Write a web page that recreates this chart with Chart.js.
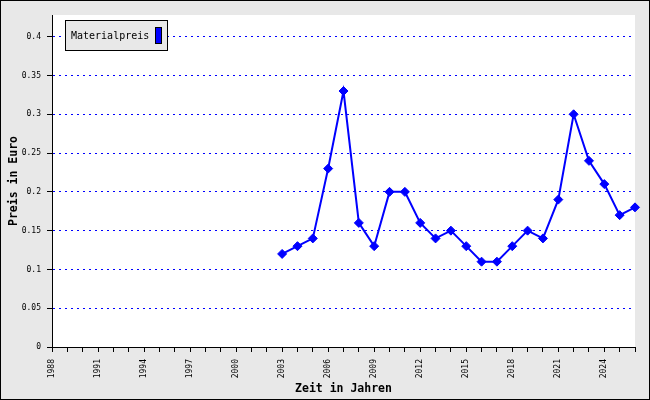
<!DOCTYPE html>
<html>
<head>
<meta charset="utf-8">
<script src="https://cdn.jsdelivr.net/npm/chart.js@4"></script>
<style>
  html, body { margin: 0; padding: 0; background: #fff; }
  #wrap { width: 650px; height: 400px; box-sizing: border-box; border: 1px solid #000; background: #e8e8e8; }
  canvas { display: block; }
</style>
</head>
<body>
<div id="wrap"><canvas id="chart" width="648" height="398"></canvas></div>
<script>
// data
const years = [2003, 2004, 2005, 2006, 2007, 2008, 2009, 2010, 2011, 2012, 2013, 2014,
  2015, 2016, 2017, 2018, 2019, 2020, 2021, 2022, 2023, 2024, 2025, 2026];
const prices = [0.12, 0.13, 0.14, 0.23, 0.33, 0.16, 0.13, 0.20, 0.20, 0.16, 0.14, 0.15,
  0.13, 0.11, 0.11, 0.13, 0.15, 0.14, 0.19, 0.30, 0.24, 0.21, 0.17, 0.18];
const seriesLabel = "Materialpreis";
const xTitle = "Zeit in Jahren";
const yTitle = "Preis in Euro";
const xMin = 1988, xMax = 2026, xLabelEvery = 3;
const yMin = 0, yMax = 0.428, yStep = 0.05;

const mono = "'DejaVu Sans Mono', 'Liberation Mono', monospace";

const bgPlugin = {
  id: "bg",
  beforeDraw(chart) {
    const { ctx, chartArea: a } = chart;
    ctx.save();
    ctx.fillStyle = "#e8e8e8";
    ctx.fillRect(0, 0, chart.width, chart.height);
    ctx.fillStyle = "#fff";
    ctx.fillRect(a.left, a.top, a.right - a.left, a.bottom - a.top);
    ctx.restore();
  },
};

const legendBox = {
  id: "legendBox",
  afterDraw(chart) {
    const { ctx, chartArea: a } = chart;
    const x = a.left + 13, y = a.top + 5, w = 102, h = 30;
    ctx.save();
    ctx.fillStyle = "#e8e8e8";
    ctx.fillRect(x + 0.5, y + 0.5, w, h);
    ctx.strokeStyle = "#000";
    ctx.lineWidth = 1;
    ctx.strokeRect(x + 0.5, y + 0.5, w, h);
    ctx.fillStyle = "#000";
    ctx.font = "10px " + mono;
    ctx.textBaseline = "middle";
    ctx.fillText(chart.data.datasets[0].label, x + 6, y + h / 2 + 1);
    ctx.fillStyle = "#0000ff";
    ctx.fillRect(x + 90.5, y + 7.5, 6, 16);
    ctx.strokeRect(x + 90.5, y + 7.5, 6, 16);
    ctx.restore();
  },
};

new Chart(document.getElementById("chart").getContext("2d"), {
  type: "line",
  data: {
    datasets: [{
      label: seriesLabel,
      data: years.map((yr, i) => ({ x: yr, y: prices[i] })),
      borderColor: "#0000ff",
      backgroundColor: "#0000ff",
      borderWidth: 2,
      pointStyle: "rectRot",
      pointRadius: 4.5,
      pointBorderWidth: 1,
      tension: 0,
      clip: false,
    }],
  },
  options: {
    responsive: false,
    animation: false,
    events: [],
    parsing: false,
    layout: { padding: { top: 14, right: 14, left: 0, bottom: 0 } },
    plugins: { legend: { display: false }, tooltip: { enabled: false } },
    scales: {
      x: {
        type: "linear",
        min: xMin,
        max: xMax,
        afterFit(s) {
          s.height = 52;
          s.paddingLeft = 0;
          s.paddingRight = 0;
        },
        ticks: {
          stepSize: 1,
          autoSkip: false,
          maxRotation: 90,
          minRotation: 90,
          padding: 7,
          color: "#000",
          font: { family: mono, size: 8 },
          callback: (v) => ((v - xMin) % xLabelEvery === 0 ? String(v) : ""),
        },
        grid: { drawOnChartArea: false, drawTicks: true, tickLength: 5, color: "#000" },
        border: { color: "#000", width: 1 },
        title: {
          display: true,
          text: xTitle,
          color: "#000",
          font: { family: mono, size: 11.5, weight: "bold" },
          padding: { top: 0, bottom: 3 },
        },
      },
      y: {
        min: yMin,
        max: yMax,
        afterFit(s) {
          s.width = 51;
          s.paddingTop = 0;
          s.paddingBottom = 0;
        },
        afterBuildTicks(s) {
          s.ticks = s.ticks.filter((t) => Math.abs(t.value / yStep - Math.round(t.value / yStep)) < 1e-6);
        },
        ticks: {
          stepSize: yStep,
          padding: 6,
          color: "#000",
          font: { family: mono, size: 8 },
          callback: (v) => String(+v.toFixed(2)),
        },
        grid: {
          color: (c) => (c.tick && c.tick.value === 0 ? "rgba(0,0,0,0)" : "#0000ff"),
          tickColor: "#000",
          tickLength: 5,
          lineWidth: 1,
        },
        border: { color: "#000", width: 1, dash: [2, 4] },
        title: {
          display: true,
          text: yTitle,
          color: "#000",
          font: { family: mono, size: 11.5, weight: "bold" },
          padding: { top: 6, bottom: 0 },
        },
      },
    },
  },
  plugins: [bgPlugin, legendBox],
});
</script>
</body>
</html>
